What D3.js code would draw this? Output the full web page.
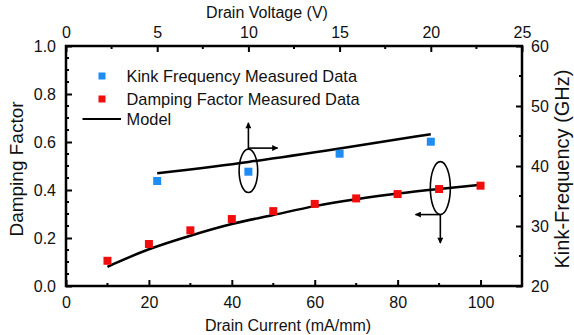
<!DOCTYPE html>
<html><head><meta charset="utf-8">
<script src="https://cdn.jsdelivr.net/npm/d3@7"></script>
<style>
html,body{margin:0;padding:0;background:#fff;}
svg text{font-family:"Liberation Sans",Arial,sans-serif;fill:#111;}
</style></head>
<body>
<svg id="chart" width="574" height="335"></svg>
<script>
// ---- data ----
const currentMA = [10, 20, 30, 40, 50, 60, 70, 80, 90, 100];
const dampingMeasured = [0.105, 0.175, 0.232, 0.279, 0.312, 0.342, 0.365, 0.383, 0.404, 0.418];
const dampingModel = [0.080, 0.157, 0.210, 0.261, 0.295, 0.335, 0.362, 0.386, 0.404, 0.422];
const voltageV = [5, 10, 15, 20];
const kinkMeasured = [37.5, 39.05, 42.05, 44.05];
const kinkModel = [38.8, 40.6, 42.9, 45.3];
const bottomTicks = [0, 20, 40, 60, 80, 100];
const topTicks = [0, 5, 10, 15, 20, 25];
const leftTicks = [0.0, 0.2, 0.4, 0.6, 0.8, 1.0];
const rightTicks = [20, 30, 40, 50, 60];
const legendItems = ["Kink Frequency Measured Data", "Damping Factor Measured Data", "Model"];
// annotation anchors (data units)
const ellipseKink = {v: 10, f: 39.2, upTo: 47.2, rightTo: 11.6};
const ellipseDamp = {i: 90.3, d: 0.408, leftTo: 84.3, downTo: 0.179};

const W = 574, H = 335;
const L = 66, R = 522, T = 46, B = 286;
const svg = d3.select("#chart");
const x = d3.scaleLinear().domain([0, 110]).range([L, R]);
const xTop = d3.scaleLinear().domain([0, 25]).range([L, R]);
const y = d3.scaleLinear().domain([0, 1]).range([B, T]);
const yR = d3.scaleLinear().domain([20, 60]).range([B, T]);

const blue = "#1E8CF5", red = "#F20D0D";
const fs = 16;

function styleAxis(g){
  g.select(".domain").remove();
  g.selectAll(".tick line").attr("stroke","#000").attr("stroke-width",2);
  g.selectAll(".tick text").attr("font-size",fs).attr("fill","#111");
}
function minor(g, scale, vals, orient){
  g.selectAll(null).data(vals).enter().append("line")
    .attr("stroke","#000").attr("stroke-width",2)
    .each(function(d){
      const s=d3.select(this);
      if(orient==="bottom"){s.attr("x1",scale(d)).attr("x2",scale(d)).attr("y1",B).attr("y2",B-3);}
      if(orient==="top"){s.attr("x1",scale(d)).attr("x2",scale(d)).attr("y1",T).attr("y2",T+3);}
      if(orient==="left"){s.attr("y1",scale(d)).attr("y2",scale(d)).attr("x1",L).attr("x2",L+3);}
      if(orient==="right"){s.attr("y1",scale(d)).attr("y2",scale(d)).attr("x1",R).attr("x2",R-3);}
    });
}

const gb = svg.append("g").attr("transform",`translate(0,${B})`)
  .call(d3.axisBottom(x).tickValues(bottomTicks).tickSize(-6).tickPadding(11).tickFormat(d3.format("d")));
styleAxis(gb);
gb.selectAll(".tick text").attr("dy","0.71em");
const gt = svg.append("g").attr("transform",`translate(0,${T})`)
  .call(d3.axisTop(xTop).tickValues(topTicks).tickSize(-6).tickPadding(8).tickFormat(d3.format("d")));
styleAxis(gt);
const gl = svg.append("g").attr("transform",`translate(${L},0)`)
  .call(d3.axisLeft(y).tickValues(leftTicks).tickSize(-6).tickPadding(10).tickFormat(d3.format(".1f")));
styleAxis(gl);
const gr = svg.append("g").attr("transform",`translate(${R},0)`)
  .call(d3.axisRight(yR).tickValues(rightTicks).tickSize(-6).tickPadding(9).tickFormat(d3.format("d")));
styleAxis(gr);

const mg = svg.append("g");
minor(mg, x, d3.range(10,110,20), "bottom");
minor(mg, xTop, d3.range(2.5,25,5), "top");
minor(mg, y, d3.range(0.05,1,0.05).filter(v=>Math.abs(v*5-Math.round(v*5))>1e-6), "left");
minor(mg, yR, [25,35,45,55], "right");

svg.append("rect").attr("x",L).attr("y",T).attr("width",R-L).attr("height",B-T)
  .attr("fill","none").attr("stroke","#000").attr("stroke-width",2.5);

// axis titles
svg.append("text").attr("x",288).attr("y",331).attr("text-anchor","middle").attr("font-size",fs).text("Drain Current (mA/mm)");
svg.append("text").attr("x",267).attr("y",18).attr("text-anchor","middle").attr("font-size",fs).text("Drain Voltage (V)");
svg.append("text").attr("transform",`translate(23,169) rotate(-90)`).attr("text-anchor","middle").attr("font-size",19).text("Damping Factor");
svg.append("text").attr("transform",`translate(569,169) rotate(-90)`).attr("text-anchor","middle").attr("font-size",20).text("Kink-Frequency (GHz)");

// model lines
const lineDamp = d3.line().x((d,i)=>x(currentMA[i])).y(d=>y(d)).curve(d3.curveBasis);
svg.append("path").datum(dampingModel).attr("d",lineDamp).attr("fill","none").attr("stroke","#000").attr("stroke-width",2.5);
const lineKink = d3.line().x((d,i)=>xTop(voltageV[i])).y(d=>yR(d)).curve(d3.curveBasis);
svg.append("path").datum(kinkModel).attr("d",lineKink).attr("fill","none").attr("stroke","#000").attr("stroke-width",2.5);

// markers
const ms = 8;
svg.append("g").selectAll("rect").data(dampingMeasured).enter().append("rect")
  .attr("x",(d,i)=>x(currentMA[i])-ms/2).attr("y",d=>y(d)-ms/2).attr("width",ms).attr("height",ms).attr("fill",red);
svg.append("g").selectAll("rect").data(kinkMeasured).enter().append("rect")
  .attr("x",(d,i)=>xTop(voltageV[i])-ms/2).attr("y",d=>yR(d)-ms/2).attr("width",ms).attr("height",ms).attr("fill",blue);

const defs = svg.append("defs");
defs.append("marker").attr("id","ah").attr("viewBox","0 0 10 10").attr("refX",9).attr("refY",5)
  .attr("markerWidth",8).attr("markerHeight",6).attr("markerUnits","userSpaceOnUse").attr("orient","auto")
  .append("path").attr("d","M0,0 L10,5 L0,10 z").attr("fill","#000");

{
  const cx = xTop(ellipseKink.v), cy = yR(ellipseKink.f), rx = 9.3, ry = 21.7;
  svg.append("ellipse").attr("cx",cx).attr("cy",cy).attr("rx",rx).attr("ry",ry).attr("fill","none").attr("stroke","#000").attr("stroke-width",1.6);
  const top = cy - ry;
  svg.append("line").attr("x1",cx).attr("y1",top).attr("x2",cx).attr("y2",yR(ellipseKink.upTo)).attr("stroke","#000").attr("stroke-width",1.6).attr("marker-end","url(#ah)");
  svg.append("line").attr("x1",cx).attr("y1",top-1).attr("x2",xTop(ellipseKink.rightTo)).attr("y2",top-1).attr("stroke","#000").attr("stroke-width",1.6).attr("marker-end","url(#ah)");
}
{
  const cx = x(ellipseDamp.i), cy = y(ellipseDamp.d), rx = 10, ry = 26.5;
  svg.append("ellipse").attr("cx",cx).attr("cy",cy).attr("rx",rx).attr("ry",ry).attr("fill","none").attr("stroke","#000").attr("stroke-width",1.6);
  const bot = cy + ry;
  svg.append("line").attr("x1",cx).attr("y1",bot).attr("x2",cx).attr("y2",y(ellipseDamp.downTo)).attr("stroke","#000").attr("stroke-width",1.6).attr("marker-end","url(#ah)");
  svg.append("line").attr("x1",cx).attr("y1",bot).attr("x2",x(ellipseDamp.leftTo)).attr("y2",bot).attr("stroke","#000").attr("stroke-width",1.6).attr("marker-end","url(#ah)");
}

const lg = svg.append("g");
const ly = [76, 99, 119];
lg.append("rect").attr("x",98.5).attr("y",ly[0]-3.5).attr("width",7).attr("height",7).attr("fill",blue);
lg.append("rect").attr("x",98.5).attr("y",ly[1]-3.5).attr("width",7).attr("height",7).attr("fill",red);
lg.append("line").attr("x1",82.5).attr("x2",121).attr("y1",ly[2]).attr("y2",ly[2]).attr("stroke","#000").attr("stroke-width",2);
legendItems.forEach((t,i)=>{
  lg.append("text").attr("x",126.5).attr("y",ly[i]).attr("dy","0.35em").attr("font-size",16.4).text(t);
});
</script>
</body></html>
